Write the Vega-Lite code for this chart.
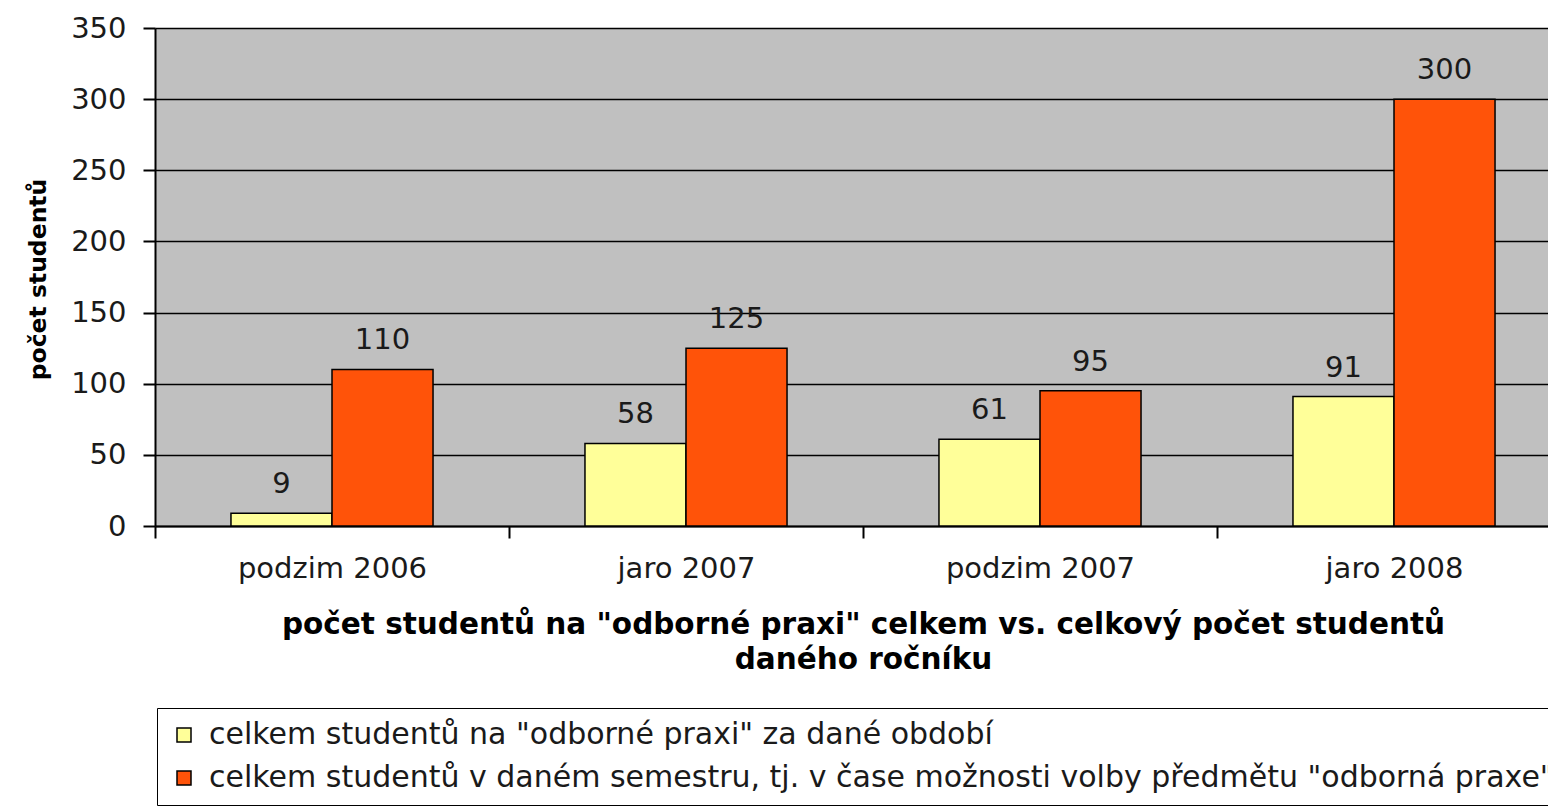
{
  "$schema": "https://vega.github.io/schema/vega-lite/v6.json",
  "width": 1393,
  "height": 498,
  "autosize": {"type": "none"},
  "padding": {"left": 155, "top": 28, "right": 0, "bottom": 285},
  "background": "white",
  "config": {
    "font": "DejaVu Sans",
    "view": {"fill": "#c0c0c0", "stroke": "#a8a8a8"}
  },
  "data": {
    "values": [
      {"obdobi": "podzim 2006", "serie": "celkem studentů na \"odborné praxi\" za dané období", "pocet": 9},
      {"obdobi": "podzim 2006", "serie": "celkem studentů v daném semestru, tj. v čase možnosti volby předmětu \"odborná praxe\"", "pocet": 110},
      {"obdobi": "jaro 2007", "serie": "celkem studentů na \"odborné praxi\" za dané období", "pocet": 58},
      {"obdobi": "jaro 2007", "serie": "celkem studentů v daném semestru, tj. v čase možnosti volby předmětu \"odborná praxe\"", "pocet": 125},
      {"obdobi": "podzim 2007", "serie": "celkem studentů na \"odborné praxi\" za dané období", "pocet": 61},
      {"obdobi": "podzim 2007", "serie": "celkem studentů v daném semestru, tj. v čase možnosti volby předmětu \"odborná praxe\"", "pocet": 95},
      {"obdobi": "jaro 2008", "serie": "celkem studentů na \"odborné praxi\" za dané období", "pocet": 91},
      {"obdobi": "jaro 2008", "serie": "celkem studentů v daném semestru, tj. v čase možnosti volby předmětu \"odborná praxe\"", "pocet": 300}
    ]
  },
  "encoding": {
    "x": {
      "field": "obdobi",
      "type": "nominal",
      "sort": ["podzim 2006", "jaro 2007", "podzim 2007", "jaro 2008"],
      "scale": {"range": [0, 1416], "paddingInner": 0, "paddingOuter": 0},
      "axis": {
        "labelAngle": 0,
        "labelFontSize": 29,
        "labelColor": "#1a1a1a",
        "labelPadding": 16,
        "labelLimit": 1000,
        "tickBand": "extent",
        "tickSize": 12,
        "tickColor": "black",
        "tickWidth": 2,
        "domainColor": "black",
        "domainWidth": 2,
        "title": ["počet studentů na \"odborné praxi\" celkem vs. celkový počet studentů", "daného ročníku"],
        "titleFontSize": 29.5,
        "titleFontWeight": "bold",
        "titleColor": "black",
        "titleX": 708,
        "titleY": 107,
        "titleBaseline": "alphabetic",
        "titleLineHeight": 35
      }
    },
    "xOffset": {
      "field": "serie",
      "sort": ["celkem studentů na \"odborné praxi\" za dané období", "celkem studentů v daném semestru, tj. v čase možnosti volby předmětu \"odborná praxe\""],
      "scale": {"paddingInner": 0, "paddingOuter": 0.752}
    },
    "y": {
      "field": "pocet",
      "type": "quantitative",
      "scale": {"domain": [0, 350]},
      "axis": {
        "values": [0, 50, 100, 150, 200, 250, 300, 350],
        "grid": true,
        "gridColor": "black",
        "gridOpacity": 1,
        "gridWidth": 1.5,
        "labelFontSize": 29,
        "labelColor": "#1a1a1a",
        "labelPadding": 17,
        "tickSize": 12,
        "tickColor": "black",
        "tickWidth": 2,
        "domainColor": "black",
        "domainWidth": 2,
        "title": "počet studentů",
        "titleFontSize": 23.5,
        "titleFontWeight": "bold",
        "titleColor": "black",
        "titleAngle": -90,
        "titleX": -117,
        "titleY": 251,
        "titleAlign": "center",
        "titleBaseline": "middle"
      }
    }
  },
  "layer": [
    {
      "mark": {"type": "bar", "stroke": "black", "strokeWidth": 1.5},
      "encoding": {
        "color": {
          "field": "serie",
          "type": "nominal",
          "scale": {
            "domain": ["celkem studentů na \"odborné praxi\" za dané období", "celkem studentů v daném semestru, tj. v čase možnosti volby předmětu \"odborná praxe\""],
            "range": ["#ffff99", "#ff5309"]
          },
          "legend": {
            "orient": "none",
            "legendX": 2,
            "legendY": 680,
            "title": null,
            "strokeColor": "black",
            "padding": 12,
            "fillColor": "white",
            "symbolType": "square",
            "symbolSize": 196,
            "symbolStrokeColor": "black",
            "symbolStrokeWidth": 1.5,
            "labelFontSize": 30,
            "labelColor": "#1a1a1a",
            "labelOffset": 10,
            "labelLimit": 3000,
            "rowPadding": 13
          }
        }
      }
    },
    {
      "mark": {"type": "text", "baseline": "alphabetic", "dy": -20, "fontSize": 29, "color": "#1a1a1a"},
      "encoding": {"text": {"field": "pocet", "type": "quantitative"}}
    }
  ]
}
